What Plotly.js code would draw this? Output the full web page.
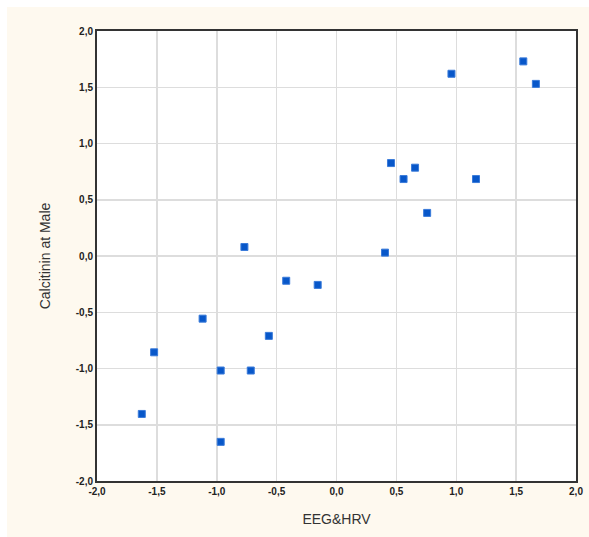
<!DOCTYPE html>
<html>
<head>
<meta charset="utf-8">
<script src="https://cdn.plot.ly/plotly-3.0.1.min.js"></script>
<style>
html,body{margin:0;padding:0;background:#ffffff;width:589px;height:537px;overflow:hidden;}
#chart{position:absolute;left:7px;top:7px;width:582px;height:530px;}
</style>
</head>
<body>
<div id="chart"></div>
<script>
var eegHrv = [1.56, 1.665, 0.96, 0.455, 0.656, 0.56, 1.165, 0.757, 0.405, -0.769, -0.42, -0.157, -1.118, -0.565, -1.523, -0.967, -0.716, -1.626, -0.967];
var calcitonin = [1.73, 1.53, 1.62, 0.826, 0.785, 0.684, 0.684, 0.383, 0.03, 0.08, -0.22, -0.257, -0.557, -0.71, -0.856, -1.018, -1.018, -1.404, -1.652];
var tickValues = [-2, -1.5, -1, -0.5, 0, 0.5, 1, 1.5, 2];
var tickLabels = ["-2,0", "-1,5", "-1,0", "-0,5", "0,0", "0,5", "1,0", "1,5", "2,0"];
var xTitle = "EEG&HRV";
var yTitle = "Calcitinin at Male";

var trace = {
  x: eegHrv,
  y: calcitonin,
  type: 'scatter',
  mode: 'markers',
  marker: {symbol: 'square', size: 7, color: '#0857C9', line: {color: '#3A7BDA', width: 1}},
  hoverinfo: 'x+y'
};

var tickFont = {family: 'Liberation Sans, Arial, sans-serif', size: 10, color: '#222222', weight: 'bold'};
var layout = {
  width: 582, height: 530,
  paper_bgcolor: '#FEF9EF',
  plot_bgcolor: '#FFFFFF',
  margin: {l: 90, r: 13, t: 24, b: 56},
  showlegend: false,
  xaxis: {
    range: [-2, 2], tickvals: tickValues, ticktext: tickLabels,
    showgrid: true, gridcolor: '#DDDDDD', gridwidth: 1.5, zeroline: false,
    showline: true, mirror: true, linecolor: '#333333', linewidth: 2,
    ticks: '', tickfont: tickFont,
    title: {text: xTitle, font: {family: 'Liberation Sans, Arial, sans-serif', size: 14, color: '#333333'}, standoff: 18}
  },
  yaxis: {
    range: [-2, 2], tickvals: tickValues, ticktext: tickLabels,
    showgrid: true, gridcolor: '#DDDDDD', gridwidth: 1.5, zeroline: false,
    showline: true, mirror: true, linecolor: '#333333', linewidth: 2,
    ticks: '', tickfont: tickFont,
    title: {text: yTitle, font: {family: 'Liberation Sans, Arial, sans-serif', size: 14, color: '#333333'}, standoff: 22}
  }
};
Plotly.newPlot('chart', [trace], layout, {displayModeBar: false, staticPlot: true});
</script>
</body>
</html>
